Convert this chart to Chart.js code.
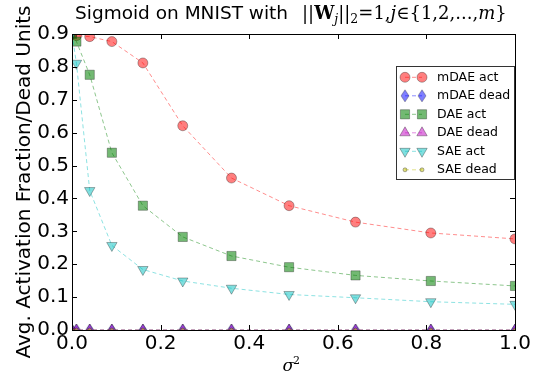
<!DOCTYPE html>
<html>
<head>
<meta charset="utf-8">
<title>Sigmoid on MNIST</title>
<script src="https://cdn.jsdelivr.net/npm/chart.js@4.4.1/dist/chart.umd.min.js"></script>
<style>
  html, body { margin: 0; padding: 0; background: #fff; }
  .chart-box { position: relative; width: 538px; height: 374px; }
</style>
</head>
<body>
<div class="chart-box"><canvas id="sigmoidChart"></canvas></div>
<script>
// x values (sigma^2)
const sigmaSq = [0, 0.01, 0.04, 0.09, 0.16, 0.25, 0.36, 0.49, 0.64, 0.81, 1.0];

// series
const mdaeAct  = [0.90, 0.895, 0.892, 0.877, 0.812, 0.621, 0.462, 0.378, 0.328, 0.295, 0.277];
const mdaeDead = [0, 0, 0, 0, 0, 0, 0, 0, 0, 0, 0];
const daeAct   = [0.90, 0.877, 0.776, 0.539, 0.378, 0.283, 0.225, 0.191, 0.166, 0.149, 0.134];
const daeDead  = [0, 0, 0, 0, 0, 0, 0, 0, 0, 0, 0];
const saeAct   = [0.90, 0.811, 0.424, 0.257, 0.184, 0.149, 0.127, 0.108, 0.098, 0.086, 0.078];
const saeDead  = [0, 0, 0, 0, 0, 0, 0, 0, 0, 0, 0];

const xTicks = [0, 0.2, 0.4, 0.6, 0.8, 1.0];
const yTicks = [0, 0.1, 0.2, 0.3, 0.4, 0.5, 0.6, 0.7, 0.8, 0.9];

const SANS = '"DejaVu Sans", sans-serif';
const SERIF = '"DejaVu Serif", serif';
const EDGE = 'rgba(0,0,0,0.3)';

// matplotlib 'd' marker (thin diamond)
function thinDiamond(fill) {
    const c = document.createElement('canvas');
    c.width = 10; c.height = 14;
    const g = c.getContext('2d');
    g.beginPath();
    g.moveTo(5, 1); g.lineTo(9, 7); g.lineTo(5, 13); g.lineTo(1, 7);
    g.closePath();
    g.fillStyle = fill; g.fill();
    g.strokeStyle = EDGE; g.lineWidth = 1; g.stroke();
    return c;
}

function makeSet(label, values, line, fill, style, radius, rotation) {
    return {
        label: label,
        data: values.map((v, i) => ({ x: sigmaSq[i], y: v })),
        borderColor: line,
        backgroundColor: fill,
        borderWidth: 1,
        borderDash: [4, 3],
        pointStyle: style,
        pointRadius: radius,
        pointHoverRadius: radius,
        pointRotation: rotation || 0,
        pointBackgroundColor: fill,
        pointBorderColor: EDGE,
        pointBorderWidth: 1,
        tension: 0,
        fill: false
    };
}

const datasets = [
    makeSet('mDAE act',  mdaeAct,  'rgba(255,0,0,0.45)',   'rgba(255,0,0,0.5)',   'circle',   5),
    makeSet('mDAE dead', mdaeDead, 'rgba(0,0,255,0.45)',   'rgba(0,0,255,0.5)',   thinDiamond('rgba(0,0,255,0.5)'), 5),
    makeSet('DAE act',   daeAct,   'rgba(0,128,0,0.45)',   'rgba(0,128,0,0.55)',  'rect',     6.5),
    makeSet('DAE dead',  daeDead,  'rgba(191,0,191,0.45)', 'rgba(191,0,191,0.5)', 'triangle', 6),
    makeSet('SAE act',   saeAct,   'rgba(0,191,191,0.45)', 'rgba(0,191,191,0.5)', 'triangle', 6, 180),
    makeSet('SAE dead',  saeDead,  'rgba(191,191,0,0.45)', 'rgba(191,191,0,0.5)', 'circle',   2)
];
// later series on top, as in matplotlib
datasets.forEach((d, i) => { d.order = datasets.length - i; });

// frame, inward ticks, title, axis labels and legend
const decorations = {
    id: 'decorations',
    afterDraw(chart) {
        const ctx = chart.ctx;
        const a = chart.chartArea;
        const xs = chart.scales.x, ys = chart.scales.y;
        ctx.save();
        ctx.strokeStyle = '#000';
        ctx.lineWidth = 1;
        ctx.strokeRect(Math.round(a.left) + 0.5, Math.round(a.top) + 0.5,
                       Math.round(a.right - a.left), Math.round(a.bottom - a.top));

        ctx.beginPath();
        xTicks.forEach(v => {
            const px = Math.round(xs.getPixelForValue(v)) + 0.5;
            ctx.moveTo(px, a.bottom); ctx.lineTo(px, a.bottom - 5);
            ctx.moveTo(px, a.top); ctx.lineTo(px, a.top + 5);
        });
        yTicks.forEach(v => {
            const py = Math.round(ys.getPixelForValue(v)) + 0.5;
            ctx.moveTo(a.left, py); ctx.lineTo(a.left + 5, py);
            ctx.moveTo(a.right, py); ctx.lineTo(a.right - 5, py);
        });
        ctx.stroke();

        // title, plain part then math part
        ctx.fillStyle = '#000';
        ctx.textBaseline = 'alphabetic';
        ctx.textAlign = 'left';
        ctx.font = '18.5px ' + SANS;
        ctx.fillText('Sigmoid on MNIST with', 75, 18.5);
        const runs = [
            { t: '||', f: '18px ' + SERIF },
            { t: 'W', f: 'bold 18px ' + SERIF },
            { t: 'j', f: 'italic 12.5px ' + SERIF, dy: 4 },
            { t: '||', f: '18px ' + SERIF },
            { t: '2', f: '12.5px ' + SERIF, dy: 4 },
            { t: '=1,', f: '18px ' + SERIF },
            { t: 'j', f: 'italic 18px ' + SERIF },
            { t: '∈', f: '18px ' + SERIF },
            { t: '{1,2,...,', f: '18px ' + SERIF },
            { t: 'm', f: 'italic 18px ' + SERIF },
            { t: '}', f: '18px ' + SERIF }
        ];
        let x = 302;
        runs.forEach(r => {
            ctx.font = r.f;
            ctx.fillText(r.t, x, 18.5 + (r.dy || 0));
            x += ctx.measureText(r.t).width;
        });

        // x axis label
        const cx = (a.left + a.right) / 2;
        ctx.font = 'italic 17px ' + SERIF;
        ctx.fillText('σ', cx - 11, 370.5);
        ctx.font = '11px ' + SERIF;
        ctx.fillText('2', cx - 0.5, 364);

        // y axis label
        ctx.save();
        ctx.translate(29.5, (a.top + a.bottom) / 2);
        ctx.rotate(-Math.PI / 2);
        ctx.textAlign = 'center';
        ctx.font = '20px ' + SANS;
        ctx.fillText('Avg. Activation Fraction/Dead Units', 0, 0);
        ctx.restore();

        // legend box in the upper right
        const boxR = a.right - 1, boxT = a.top + 32, boxW = 118, boxH = 113;
        ctx.fillStyle = '#fff';
        ctx.fillRect(boxR - boxW, boxT, boxW, boxH);
        ctx.strokeStyle = '#333';
        ctx.strokeRect(Math.round(boxR - boxW) + 0.5, Math.round(boxT) + 0.5, boxW, boxH);
        chart.data.datasets.forEach((d, i) => {
            const ry = boxT + 11.3 + i * 18.5;
            const m1 = boxR - boxW + 9, m2 = boxR - boxW + 26;
            ctx.strokeStyle = d.borderColor;
            ctx.setLineDash(d.borderDash);
            ctx.beginPath();
            ctx.moveTo(m1, ry); ctx.lineTo(m2, ry);
            ctx.stroke();
            ctx.setLineDash([]);
            [m1, m2].forEach(mx => {
                ctx.fillStyle = d.pointBackgroundColor;
                ctx.strokeStyle = d.pointBorderColor;
                ctx.lineWidth = 1;
                Chart.helpers.drawPoint(ctx, {
                    pointStyle: d.pointStyle,
                    radius: d.pointRadius,
                    rotation: d.pointRotation,
                    borderWidth: 1
                }, mx, ry);
            });
            ctx.fillStyle = '#000';
            ctx.font = '12.5px ' + SANS;
            ctx.textAlign = 'left';
            ctx.textBaseline = 'middle';
            ctx.fillText(d.label, boxR - boxW + 41, ry);
        });
        ctx.restore();
    }
};

const chart = new Chart(document.getElementById('sigmoidChart'), {
    type: 'line',
    data: { datasets: datasets },
    options: {
        responsive: true,
        maintainAspectRatio: false,
        animation: false,
        devicePixelRatio: 1,
        layout: { padding: { top: 34, right: 23, left: 0, bottom: 0 } },
        plugins: {
            legend: { display: false },
            title: { display: false },
            tooltip: { enabled: false }
        },
        scales: {
            x: {
                type: 'linear',
                min: 0,
                max: 1,
                afterBuildTicks: s => { s.ticks = xTicks.map(v => ({ value: v })); },
                afterFit: s => { s.height = 44; },
                grid: { display: false, drawTicks: false },
                border: { display: false },
                ticks: {
                    autoSkip: false,
                    maxRotation: 0,
                    padding: 2,
                    color: '#000',
                    font: { family: SANS, size: 20 },
                    callback: v => v.toFixed(1)
                }
            },
            y: {
                min: 0,
                max: 0.9,
                afterBuildTicks: s => { s.ticks = yTicks.map(v => ({ value: v })); },
                afterFit: s => { s.width = 72; },
                grid: { display: false, drawTicks: false },
                border: { display: false },
                ticks: {
                    autoSkip: false,
                    padding: 3,
                    color: '#000',
                    font: { family: SANS, size: 20 },
                    callback: v => v.toFixed(1)
                }
            }
        }
    },
    plugins: [decorations]
});
</script>
</body>
</html>
